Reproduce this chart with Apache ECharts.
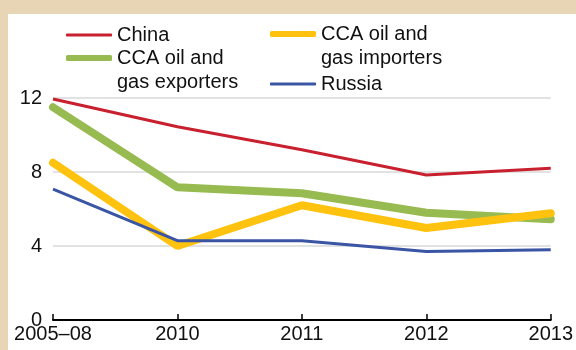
<!DOCTYPE html>
<html>
<head>
<meta charset="utf-8">
<script src="https://cdn.jsdelivr.net/npm/echarts@6/dist/echarts.min.js"></script>
<style>
html,body{margin:0;padding:0;background:#E8D5B5;}
#chart{width:576px;height:350px;}
</style>
</head>
<body>
<div id="chart"></div>
<script>
const categories = ['2005–08', '2010', '2011', '2012', '2013'];
const china = [11.95, 10.45, 9.2, 7.84, 8.2];
const exporters = [11.5, 7.17, 6.85, 5.8, 5.45];
const importers = [8.5, 4.0, 6.2, 4.97, 5.77];
const russia = [7.08, 4.29, 4.29, 3.7, 3.8];
const yTicks = { min: 0, max: 12, interval: 4 };

const FONT = '"Liberation Sans", Arial, sans-serif';
const names = {
  china: 'China',
  exp: 'CCA oil and\ngas exporters',
  imp: 'CCA oil and\ngas importers',
  rus: 'Russia'
};
const colors = {
  china: '#C8202F',
  exp: '#97BB50',
  imp: '#FFC20E',
  rus: '#3A55A4'
};

function legendOne(name, color, left, top, h, twoLine) {
  return {
    data: [name],
    left: left,
    top: top,
    padding: 0,
    icon: 'roundRect',
    itemWidth: 46,
    itemHeight: h,
    selectedMode: false,
    itemStyle: { color: color },
    formatter: twoLine ? function (n) { return ' \n' + n; } : '{name}',
    textStyle: {
      fontFamily: FONT,
      fontSize: 20,
      color: '#111',
      lineHeight: 24
    }
  };
}

const chart = echarts.init(document.getElementById('chart'), null, { renderer: 'canvas' });
chart.setOption({
  backgroundColor: '#E8D5B5',
  animation: false,
  textStyle: { fontFamily: FONT },
  graphic: [{
    type: 'rect',
    z: -10,
    silent: true,
    shape: { x: 8, y: 14, width: 568, height: 336 },
    style: { fill: '#ffffff' }
  }],
  legend: [
    legendOne(names.china, colors.china, 66, 23, 3, false),
    legendOne(names.exp, colors.exp, 66, 22, 6, true),
    legendOne(names.imp, colors.imp, 270, -2, 6, true),
    legendOne(names.rus, colors.rus, 270, 72, 3, false)
  ],
  grid: { left: 53, right: 25, top: 98, bottom: 30, containLabel: false },
  xAxis: {
    type: 'category',
    data: categories,
    boundaryGap: false,
    axisLine: { lineStyle: { color: '#000', width: 2 } },
    axisTick: { inside: true, length: 6, lineStyle: { color: '#000', width: 1.5 } },
    axisLabel: { fontSize: 20, color: '#111', margin: 4, fontFamily: FONT },
    splitLine: { show: false }
  },
  yAxis: {
    type: 'value',
    min: yTicks.min,
    max: yTicks.max,
    interval: yTicks.interval,
    axisLine: { show: false },
    axisTick: { show: false },
    axisLabel: { fontSize: 20, color: '#111', margin: 11, fontFamily: FONT },
    splitLine: { lineStyle: { color: '#D9D9D9', width: 1.5 } }
  },
  series: [
    { name: names.exp, type: 'line', data: exporters, symbol: 'none', color: colors.exp,
      lineStyle: { width: 8, color: colors.exp, cap: 'round' } },
    { name: names.imp, type: 'line', data: importers, symbol: 'none', color: colors.imp,
      lineStyle: { width: 8, color: colors.imp, cap: 'round' } },
    { name: names.rus, type: 'line', data: russia, symbol: 'none', color: colors.rus,
      lineStyle: { width: 3, color: colors.rus } },
    { name: names.china, type: 'line', data: china, symbol: 'none', color: colors.china,
      lineStyle: { width: 3, color: colors.china } }
  ]
});
</script>
</body>
</html>
